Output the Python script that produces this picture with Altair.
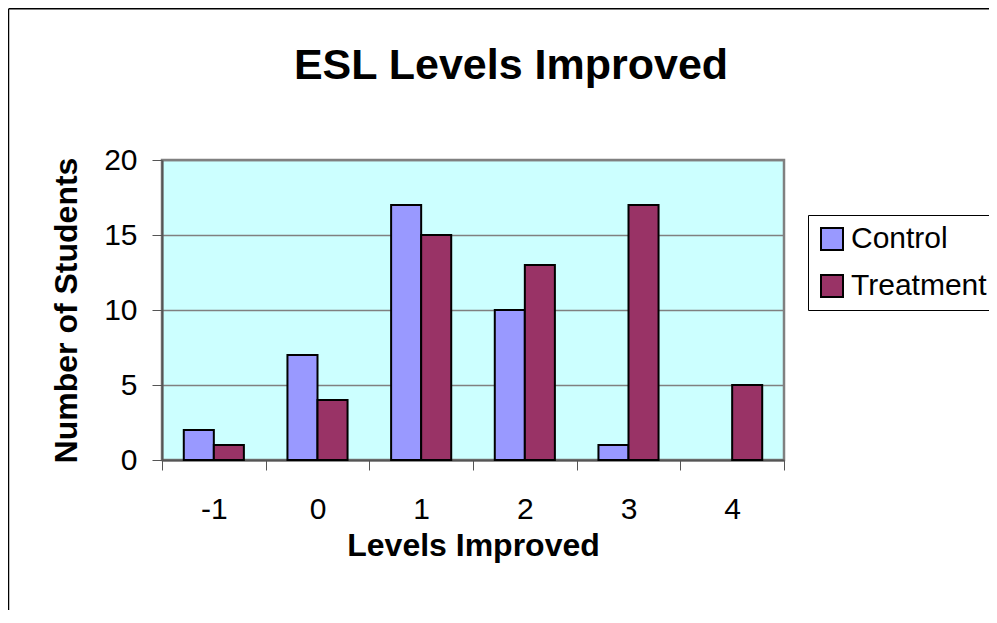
import altair as alt
import pandas as pd

levels = ["-1", "0", "1", "2", "3", "4"]
control = [2, 7, 17, 10, 1, 0]
treatment = [1, 4, 15, 13, 17, 5]
groups = ["Control", "Treatment"]
colors = ["#9999FF", "#993366"]
title_text = "ESL Levels Improved"

rows = []
for lv, c, t in zip(levels, control, treatment):
    rows.append({"level": lv, "group": "Control", "value": c})
    rows.append({"level": lv, "group": "Treatment", "value": t})
df = pd.DataFrame(rows)

FONT = "Liberation Sans"

bars = alt.Chart(df).transform_filter("datum.value > 0").mark_bar(
    stroke="black", strokeWidth=2
).encode(
    x=alt.X("level:N", sort=levels,
            scale=alt.Scale(paddingInner=0, paddingOuter=0),
            axis=alt.Axis(title="Levels Improved", labelAngle=0, tickBand="extent",
                          labelFontSize=30, labelFont=FONT, labelColor="black",
                          labelPadding=24, tickSize=10, tickColor="#555555",
                          domainColor="#555555", domainWidth=2,
                          titleFont=FONT, titleFontSize=32, titleFontWeight="bold",
                          titleColor="black", titleBaseline="alphabetic", titleY=95)),
    xOffset=alt.XOffset("group:N", sort=groups,
                        scale=alt.Scale(paddingInner=0, paddingOuter=0.725)),
    y=alt.Y("value:Q", scale=alt.Scale(domain=[0, 20]),
            axis=alt.Axis(title="Number of Students", values=[0, 5, 10, 15, 20],
                          labelFontSize=30, labelFont=FONT, labelColor="black",
                          labelPadding=15, tickSize=10, tickColor="#555555",
                          domainColor="#555555", domainWidth=2,
                          gridColor="#808080", gridWidth=1.3, gridOpacity=1,
                          titleFont=FONT, titleFontSize=32, titleFontWeight="bold",
                          titleColor="black", titleBaseline="alphabetic", titleX=-86)),
    color=alt.Color("group:N", sort=groups,
                    scale=alt.Scale(domain=groups, range=colors),
                    legend=alt.Legend(title=None, orient="none", legendX=646, legendY=55,
                                      symbolType="square", symbolSize=484,
                                      symbolStrokeColor="black", symbolStrokeWidth=2,
                                      symbolOpacity=1,
                                      labelFont=FONT, labelFontSize=30, labelColor="black",
                                      labelOffset=4, rowPadding=17,
                                      padding=9, strokeColor="black", fillColor="white",
                                      cornerRadius=0)),
)

title = alt.Chart(alt.Data(values=[{"t": title_text}])).mark_text(
    font=FONT, fontSize=43, fontWeight="bold", color="black",
    align="center", baseline="alphabetic"
).encode(text="t:N", x=alt.value(349), y=alt.value(-81))

border = alt.Chart(alt.Data(values=[{}])).mark_rule(color="black", strokeWidth=1.5).encode(
    x=alt.value(-153.5), x2=alt.value(-153.5), y=alt.value(-151), y2=alt.value(470)
)
border_top = alt.Chart(alt.Data(values=[{}])).mark_rule(color="black", strokeWidth=1.5).encode(
    x=alt.value(-153.5), x2=alt.value(900), y=alt.value(-151.2)
)

chart = alt.layer(bars, title, border, border_top).properties(
    width=622, height=300,
    autosize=alt.AutoSizeParams(type="none"),
    padding={"left": 154, "top": 152, "right": 205, "bottom": 150},
).configure_view(fill="#CCFFFF", stroke="#808080", strokeWidth=2.5)

chart.save("out.html", embed_options={"renderer": "svg", "actions": False})
